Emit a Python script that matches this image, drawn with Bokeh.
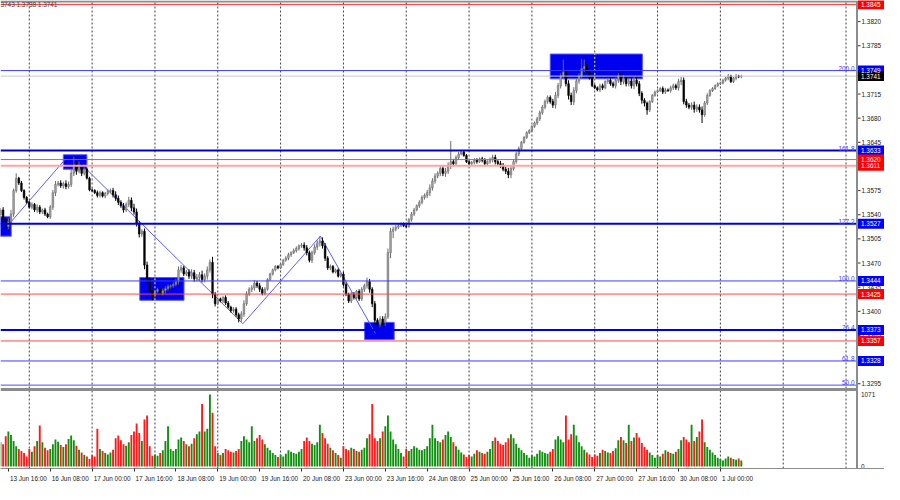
from bokeh.plotting import figure
from bokeh.models import Range1d, FixedTicker, Label, ColumnDataSource
from bokeh.core.properties import value
from bokeh.embed import file_html
from bokeh.resources import INLINE

# ---------------- data (H1 bars, bar 0 = 13 Jun 16:00) ----------------
FIRST_BAR = -3
FIRST_OPEN = 1.3540
CLOSES = [
    1.3547, 1.3533, 1.3523, 1.3530,
    1.3541, 1.3575, 1.3593, 1.3586, 1.3575, 1.3565, 1.3558,
    1.3551, 1.3555, 1.3547, 1.3551, 1.3544, 1.3547, 1.3541, 1.3537,
    1.3551, 1.3572, 1.3584, 1.3586, 1.3582, 1.3585, 1.3581, 1.3584,
    1.3600, 1.3612, 1.3603, 1.3609, 1.3600, 1.3606, 1.3593, 1.3576,
    1.3575, 1.3572, 1.3568, 1.3572, 1.3567, 1.3571, 1.3574, 1.3575,
    1.3569, 1.3564, 1.3558, 1.3553, 1.3547, 1.3555, 1.3561, 1.3550,
    1.3544, 1.3527, 1.3512, 1.3516, 1.3467, 1.3446, 1.3429, 1.3423,
    1.3429, 1.3432, 1.3426, 1.3430, 1.3433, 1.3436, 1.3437, 1.3439,
    1.3443, 1.3460, 1.3463, 1.3454, 1.3457, 1.3451, 1.3456, 1.3447,
    1.3449, 1.3453, 1.3446, 1.3451, 1.3460, 1.3471, 1.3425, 1.3411,
    1.3418, 1.3415, 1.3420, 1.3412, 1.3406, 1.3401, 1.3403, 1.3395,
    1.3389, 1.3396, 1.3411, 1.3425, 1.3432, 1.3434, 1.3441, 1.3437,
    1.3432, 1.3426, 1.3432, 1.3446, 1.3454, 1.3460, 1.3465, 1.3463,
    1.3468, 1.3474, 1.3477, 1.3482, 1.3485, 1.3488, 1.3491, 1.3495,
    1.3496, 1.3492, 1.3485, 1.3474, 1.3485, 1.3493, 1.3499, 1.3502,
    1.3495, 1.3477, 1.3463, 1.3465, 1.3457, 1.3460, 1.3451, 1.3454,
    1.3439, 1.3425, 1.3415, 1.3425, 1.3420, 1.3429, 1.3418, 1.3432,
    1.3437, 1.3443, 1.3432, 1.3411, 1.3387, 1.3381, 1.3389, 1.3384,
    1.3392, 1.3485, 1.3516, 1.3519, 1.3522, 1.3524, 1.3527, 1.3524,
    1.3523, 1.3533, 1.3541, 1.3547, 1.3553, 1.3558, 1.3565, 1.3568,
    1.3572, 1.3579, 1.3589, 1.3596, 1.3600, 1.3607, 1.3600, 1.3603,
    1.3612, 1.3617, 1.3614, 1.3623, 1.3628, 1.3631, 1.3626, 1.3617,
    1.3614, 1.3616, 1.3619, 1.3617, 1.3621, 1.3619, 1.3614, 1.3617,
    1.3620, 1.3623, 1.3617, 1.3614, 1.3612, 1.3606, 1.3603, 1.3598,
    1.3607, 1.3617, 1.3628, 1.3636, 1.3645, 1.3652, 1.3659, 1.3662,
    1.3668, 1.3673, 1.3679, 1.3688, 1.3696, 1.3704, 1.3710, 1.3704,
    1.3699, 1.3713, 1.3727, 1.3741, 1.3747, 1.3730, 1.3713, 1.3704,
    1.3720, 1.3734, 1.3741, 1.3752, 1.3755, 1.3747, 1.3738, 1.3727,
    1.3724, 1.3721, 1.3727, 1.3724, 1.3733, 1.3735, 1.3730, 1.3727,
    1.3735, 1.3741, 1.3733, 1.3738, 1.3730, 1.3734, 1.3727, 1.3735,
    1.3730, 1.3716, 1.3706, 1.3702, 1.3692, 1.3704, 1.3713, 1.3718,
    1.3720, 1.3723, 1.3718, 1.3721, 1.3720, 1.3724, 1.3727, 1.3724,
    1.3733, 1.3735, 1.3704, 1.3699, 1.3696, 1.3699, 1.3693, 1.3696,
    1.3692, 1.3685, 1.3702, 1.3713, 1.3720, 1.3723, 1.3727, 1.3730,
    1.3731, 1.3735, 1.3738, 1.3741, 1.3733, 1.3738, 1.3741, 1.3740, 1.3741,
]
# upper / lower shadows in pips beyond the body
UP_WICK = [
    3, 4, 3, 5, 6, 3, 7, 2, 3, 2, 2,
    2, 3, 2, 4, 3, 2, 3, 2, 3, 4, 5, 3, 4, 3, 5, 4, 6, 12, 5, 8, 4, 3, 2, 2,
    2, 2, 3, 3, 2, 2, 3, 3, 4, 5, 4, 3, 4, 3, 5, 4, 6, 5, 4, 3, 4, 5, 3, 2,
    2, 2, 3, 3, 4, 3, 2, 3, 4, 5, 4, 3, 3, 4, 5, 4, 5, 4, 6, 4, 5, 4, 8, 3,
    2, 2, 2, 3, 3, 2, 3, 3, 3, 4, 5, 4, 3, 4, 4, 3, 4, 3, 3, 2, 2, 2, 2, 2,
    2, 2, 3, 3, 2, 3, 3, 2, 3, 4, 4, 3, 3, 4, 4, 7, 5, 4, 3, 3, 2, 2, 2, 2,
    3, 3, 2, 3, 3, 2, 3, 3, 3, 6, 4, 3, 4, 3, 4, 4, 5, 6, 5, 4, 3, 3, 2, 2,
    2, 2, 3, 3, 2, 3, 3, 3, 4, 5, 4, 4, 3, 4, 4, 5, 4, 30, 4, 3, 3, 2, 2, 2,
    2, 2, 3, 3, 2, 3, 3, 2, 3, 4, 4, 3, 4, 3, 4, 5, 4, 3, 3, 3, 2, 2, 2, 2,
    2, 2, 3, 3, 3, 3, 3, 3, 4, 5, 4, 4, 18, 4, 5, 4, 5, 4, 4, 14, 10, 3, 2, 2,
    2, 2, 3, 3, 2, 3, 3, 3, 4, 4, 5, 4, 4, 4, 4, 5, 4, 4, 3, 3, 2, 2, 2, 2,
    2, 2, 3, 3, 2, 3, 3, 3, 4, 5, 4, 4, 3, 4, 5, 4, 4, 5, 3, 3, 2, 2, 2, 2,
    2, 2, 2, 3, 2, 2, 3, 2, 2,
]
DN_WICK = [
    3, 4, 3, 4, 3, 4, 3, 3, 2, 3, 2,
    2, 3, 3, 4, 3, 3, 3, 2, 3, 4, 5, 3, 3, 4, 4, 3, 4, 4, 5, 3, 4, 3, 2, 2,
    2, 2, 3, 3, 2, 3, 3, 3, 4, 4, 4, 3, 4, 3, 4, 5, 4, 4, 5, 4, 6, 5, 4, 7,
    3, 2, 3, 3, 4, 3, 3, 3, 3, 4, 4, 3, 3, 4, 4, 4, 4, 5, 4, 4, 5, 4, 6, 4,
    2, 2, 3, 3, 2, 3, 3, 3, 5, 4, 4, 3, 3, 4, 4, 3, 4, 3, 3, 2, 2, 2, 2, 2,
    2, 2, 2, 3, 3, 2, 3, 3, 3, 4, 4, 3, 4, 3, 4, 5, 4, 4, 3, 3, 2, 2, 2, 2,
    3, 3, 3, 3, 3, 3, 3, 3, 4, 4, 5, 5, 6, 6, 4, 4, 5, 3, 8, 10, 3, 3, 2, 2,
    2, 2, 3, 3, 2, 3, 3, 3, 4, 5, 4, 4, 3, 4, 4, 5, 4, 6, 4, 3, 3, 2, 2, 2,
    2, 2, 3, 3, 2, 3, 3, 2, 3, 4, 4, 3, 4, 3, 4, 5, 5, 3, 3, 3, 2, 2, 2, 2,
    2, 2, 3, 3, 3, 3, 3, 3, 4, 5, 4, 4, 4, 4, 6, 5, 5, 4, 4, 4, 5, 3, 2, 2,
    2, 2, 3, 3, 2, 3, 3, 3, 4, 4, 5, 4, 4, 4, 4, 5, 4, 4, 5, 5, 7, 3, 2, 2,
    2, 2, 3, 3, 2, 3, 3, 3, 4, 5, 4, 4, 3, 4, 5, 4, 4, 12, 3, 3, 2, 2, 2, 2,
    2, 2, 2, 3, 2, 2, 3, 2, 2,
]
VOLUMES = [
    360, 330, 450, 520, 470, 380, 300, 260, 230, 200, 150,
    260, 220, 300, 380, 610, 360, 280, 240, 260, 330, 400, 370, 320, 290, 330, 410, 460, 390, 310, 250, 210, 170, 150, 110,
    170, 150, 560, 260, 230, 200, 180, 210, 250, 420, 460, 390, 330, 310, 360, 470, 520, 640, 500, 380, 700, 760, 300, 160,
    180, 160, 200, 240, 380, 600, 260, 230, 260, 400, 430, 380, 330, 300, 340, 420, 480, 520, 930, 520, 560, 1071, 800, 300,
    200, 170, 200, 260, 240, 220, 210, 230, 260, 380, 450, 400, 360, 600, 380, 420, 470, 400, 330, 280, 240, 200, 170, 140,
    180, 150, 190, 240, 220, 200, 190, 220, 260, 380, 430, 380, 340, 320, 360, 620, 500, 420, 340, 280, 240, 200, 170, 130,
    300, 260, 240, 280, 260, 230, 220, 250, 280, 420, 480, 930, 420, 380, 420, 520, 600, 760, 520, 400, 330, 260, 200, 150,
    260, 230, 260, 300, 280, 250, 240, 260, 300, 420, 620, 420, 380, 360, 400, 470, 520, 440, 360, 300, 250, 210, 180, 140,
    170, 150, 190, 240, 220, 200, 190, 220, 260, 380, 430, 380, 340, 320, 360, 420, 480, 420, 340, 280, 240, 200, 170, 130,
    170, 150, 190, 240, 220, 200, 190, 220, 260, 400, 450, 400, 360, 760, 400, 480, 620, 460, 360, 300, 250, 210, 180, 140,
    180, 160, 200, 250, 230, 210, 200, 230, 270, 390, 440, 390, 350, 620, 380, 430, 500, 430, 350, 290, 250, 210, 170, 130,
    170, 150, 190, 240, 220, 200, 190, 220, 260, 390, 440, 400, 360, 620, 380, 440, 520, 700, 360, 290, 250, 210, 170, 130,
    110, 90, 120, 150, 130, 110, 100, 120, 90,
]

TICK_BARS = [0, 16, 32, 48, 64, 80, 96, 112, 128, 144, 160, 176, 192, 208, 224, 240, 256, 272]
TICK_LABELS = ["13 Jun 16:00", "16 Jun 08:00", "17 Jun 00:00", "17 Jun 16:00", "18 Jun 08:00",
               "19 Jun 00:00", "19 Jun 16:00", "20 Jun 08:00", "23 Jun 00:00", "23 Jun 16:00",
               "24 Jun 08:00", "25 Jun 00:00", "25 Jun 16:00", "26 Jun 08:00", "27 Jun 00:00",
               "27 Jun 16:00", "30 Jun 08:00", "1 Jul 00:00"]
DAY_STARTS = [8, 32, 56, 80, 104, 128, 152, 176, 200, 224, 248, 272, 296, 320]
PRICE_TICKS = [1.3295, 1.3365, 1.3400, 1.3435, 1.3470, 1.3505, 1.3540, 1.3575,
               1.3645, 1.3680, 1.3715, 1.3785, 1.3820]

# horizontal levels: price, line colour, width, fib text, price-box colour
LEVEL_PRICES = [1.3845, 1.3749, 1.3741, 1.3633, 1.3620, 1.3611, 1.3527, 1.3444, 1.3425, 1.3373, 1.3357, 1.3328, 1.3293]
LEVEL_COLORS = ["#ff2a2a", "#3c3cff", "#c8c8c8", "#0000c0", "#ff4848", "#ffa4a4", "#0000e8",
                "#3c3cff", "#ff4848", "#0000e8", "#ff4848", "#3c3cff", "#4848ff"]
LEVEL_WIDTHS = [1, 1, 1, 2, 1, 2, 2, 1, 1, 2, 1, 1, 1]
LEVEL_FIB = [None, "200.0", None, "161.8", None, None, "127.2", "100.0", None, "76.4", None, "61.8", "50.0"]
LEVEL_BOX = ["#ff0000", "#0000ff", "#000000", "#0000ff", "#ff0000", "#ff0000", "#0000ff",
             "#0000ff", "#ff0000", "#0000ff", "#ff0000", "#0000ff", None]

# rectangles (bar index / price)
BOX_LEFT = [-4.0, 21.0, 50.2, 136.1, 207.0]
BOX_RIGHT = [1.1, 30.0, 67.1, 147.4, 242.2]
BOX_TOP = [1.3537, 1.3627, 1.3449, 1.3384, 1.3773]
BOX_BOTTOM = [1.3509, 1.3606, 1.3416, 1.3359, 1.3737]

# zigzag trend lines
ZZ_X0 = [1.1, 29.6, 89.6, 119.2]
ZZ_Y0 = [1.3530, 1.3607, 1.3382, 1.3509]
ZZ_X1 = [21.4, 89.6, 119.2, 140.2]
ZZ_Y1 = [1.3619, 1.3382, 1.3509, 1.3368]

OHLC_TEXT = "3743 1.3738 1.3741"
VOL_LABELS = [1071, 0]

# ---------------- geometry ----------------
FIG_W, FRAME_H = 884, 468
CHART_W = 856                      # width of the candle area; the rest is the price scale
X_MIN, X_AX = -3, 324
BAR_PX = CHART_W / (X_AX - X_MIN)
X_RIGHT = X_MIN + FIG_W / BAR_PX
PRICE_TOP, PRICE_BOT, PRICE_PX = 1.38506, 1.32910, 386
ppx = PRICE_PX / (PRICE_TOP - PRICE_BOT)
Y_LO = PRICE_TOP - FRAME_H / ppx
VOL_MAX = VOL_LABELS[0]
VOL_ZERO_PX, VOL_MAX_PX = 466, 394
vpp = VOL_MAX / (VOL_ZERO_PX - VOL_MAX_PX)
VOL_LO = -(FRAME_H - VOL_ZERO_PX) * vpp
VOL_HI = VOL_MAX + VOL_MAX_PX * vpp
SEP_VOL = VOL_MAX + (VOL_MAX_PX - 389) * vpp
FONT = "Liberation Sans"
FS_PX = 6.4
FS = f"{FS_PX}px"
PIP = 0.0001
CHAR_EM = {" ": 0.278, ":": 0.278, "J": 0.5, "u": 0.556, "n": 0.556, "l": 0.222}


def bx(px):
    return px / BAR_PX


def py(px):
    return px / ppx


def text_px(s):
    return sum(CHAR_EM.get(ch, 0.556) for ch in s) * FS_PX


n = len(CLOSES)
bars = list(range(FIRST_BAR, FIRST_BAR + n))
opens = [FIRST_OPEN] + CLOSES[:-1]
highs = [max(o, c) + u * PIP for o, c, u in zip(opens, CLOSES, UP_WICK)]
lows = [min(o, c) - d * PIP for o, c, d in zip(opens, CLOSES, DN_WICK)]
bull = [c >= o for o, c in zip(opens, CLOSES)]

src = ColumnDataSource(dict(
    x=bars, o=opens, c=CLOSES, h=highs, l=lows, v=VOLUMES,
    body_fill=["#a8a8a8" if b else "#000000" for b in bull],
    body_line=["#6c6c6c" if b else "#000000" for b in bull],
    vol_col=["#0e900e" if b else "#ff1a1a" for b in bull],
))

p = figure(frame_width=FIG_W, frame_height=FRAME_H, output_backend="svg", toolbar_location=None,
           x_range=Range1d(X_MIN, X_RIGHT), y_range=Range1d(Y_LO, PRICE_TOP),
           y_axis_location=None, min_border_left=0, min_border_top=0,
           min_border_right=0, min_border_bottom=16,
           background_fill_color="white", border_fill_color="white")
p.extra_y_ranges = {"vol": Range1d(VOL_LO, VOL_HI)}
p.xgrid.visible = False
p.ygrid.visible = False
p.outline_line_color = None

# day separators (dotted)
p.segment(x0=DAY_STARTS, y0=[Y_LO] * len(DAY_STARTS), x1=DAY_STARTS, y1=[PRICE_TOP] * len(DAY_STARTS),
          line_color="#404040", line_dash="2 2", line_width=1)

# background rectangles
p.quad(left=BOX_LEFT, right=BOX_RIGHT, top=BOX_TOP, bottom=BOX_BOTTOM,
       fill_color="#0000f0", line_color="#5a5aff", line_width=1)
yx, yb, yt = [], [], []
for d in DAY_STARTS:
    for l_, r_, t_, b_ in zip(BOX_LEFT, BOX_RIGHT, BOX_TOP, BOX_BOTTOM):
        if l_ < d < r_:
            yx.append(d); yb.append(b_); yt.append(t_)
if yx:
    p.segment(x0=yx, y0=yb, x1=yx, y1=yt, line_color="#ffff40", line_dash="2 2", line_width=1)

# zigzag
p.segment(x0=ZZ_X0, y0=ZZ_Y0, x1=ZZ_X1, y1=ZZ_Y1, line_color="#5a5aff", line_width=1)

# candles
p.segment(x0="x", y0="l", x1="x", y1="h", source=src, line_color="body_line", line_width=1)
p.vbar(x="x", top="o", bottom="c", width=0.62, source=src, fill_color="body_fill",
       line_color="body_line", line_width=0.6)

# volume
p.vbar(x="x", top="v", bottom=0, width=0.72, source=src, y_range_name="vol",
       fill_color="vol_col", line_color=None)

# separator between the two panels, top border
p.segment(x0=[X_MIN], x1=[X_AX], y0=[SEP_VOL], y1=[SEP_VOL], y_range_name="vol",
          line_color="#8c8c8c", line_width=3)
p.segment(x0=[X_MIN], x1=[X_AX], y0=[PRICE_TOP - py(1)], y1=[PRICE_TOP - py(1)],
          line_color="#8c8c8c", line_width=2)

# horizontal levels
for price, col, w in zip(LEVEL_PRICES, LEVEL_COLORS, LEVEL_WIDTHS):
    p.segment(x0=[X_MIN], x1=[X_AX], y0=[price], y1=[price], line_color=col, line_width=w)
for price, fib in zip(LEVEL_PRICES, LEVEL_FIB):
    if fib:
        p.add_layout(Label(x=X_AX, y=price, x_offset=-2, text=fib, text_align="right",
                           text_baseline="bottom", text_font=FONT, text_font_size=FS,
                           text_color="#3c3cff"))

# ---- price scale (right) ----
p.segment(x0=[X_AX + bx(0.5)], x1=[X_AX + bx(0.5)], y0=[Y_LO], y1=[PRICE_TOP],
          line_color="#8c8c8c", line_width=2)
p.segment(x0=[X_AX + bx(1.5)] * len(PRICE_TICKS), x1=[X_AX + bx(4)] * len(PRICE_TICKS),
          y0=PRICE_TICKS, y1=PRICE_TICKS, line_color="#303030", line_width=1)
p.text(x=[X_AX + bx(5)] * len(PRICE_TICKS), y=PRICE_TICKS, text=[f"{t:.4f}" for t in PRICE_TICKS],
       text_font=value(FONT), text_font_size=FS, text_align="left", text_baseline="middle",
       text_color="#202020")
bp = [pr for pr, bc in zip(LEVEL_PRICES, LEVEL_BOX) if bc]
bcol = [bc for bc in LEVEL_BOX if bc]
p.quad(left=[X_AX + bx(1.5)] * len(bp), right=[X_RIGHT] * len(bp),
       top=[v + py(5) for v in bp], bottom=[v - py(5) for v in bp],
       fill_color=bcol, line_color=None)
p.text(x=[X_AX + bx(4.5)] * len(bp), y=bp, text=[f"{v:.4f}" for v in bp],
       text_font=value(FONT), text_font_size=FS, text_align="left", text_baseline="middle",
       text_color="white")
p.text(x=[X_AX + bx(4.5)] * len(VOL_LABELS), y=VOL_LABELS, text=[str(v) for v in VOL_LABELS],
       y_range_name="vol", text_font=value(FONT), text_font_size=FS, text_align="left",
       text_baseline="middle", text_color="#202020")

# top-left OHLC text
p.add_layout(Label(x=X_MIN, y=1.3845, text=OHLC_TEXT, text_align="left", text_baseline="middle",
                   text_font=FONT, text_font_size=FS, text_color="#404040"))

# time axis: tick marks at the bar (minor ticks), label start just right of the tick
label_pos = [round(b + bx(1.5 + text_px(s) / 2), 3) for b, s in zip(TICK_BARS, TICK_LABELS)]
xa = p.xaxis[0]
xa.ticker = FixedTicker(ticks=label_pos, minor_ticks=TICK_BARS)
xa.major_label_overrides = {pos: s for pos, s in zip(label_pos, TICK_LABELS)}
xa.axis_line_color = "#8c8c8c"
xa.major_tick_out = 0
xa.major_tick_in = 0
xa.minor_tick_out = 3
xa.minor_tick_in = 0
xa.minor_tick_line_color = "#303030"
xa.major_label_standoff = 3
xa.major_label_text_font = FONT
xa.major_label_text_font_size = FS
xa.major_label_text_color = "#202020"

open("out.html", "w").write(file_html(p, INLINE))
